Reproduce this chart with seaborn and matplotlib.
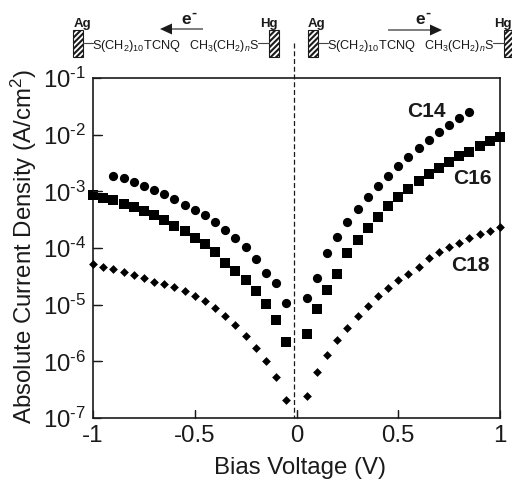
import numpy as np
import pandas as pd
import matplotlib
matplotlib.use("Agg")
import matplotlib.pyplot as plt
from matplotlib.patches import Rectangle, FancyArrow
import seaborn as sns

# Bias voltages of the sampled points (V)
v_c14_neg = [-0.90,-0.85,-0.80,-0.75,-0.70,-0.65,-0.60,-0.55,-0.50,-0.45,-0.40,-0.35,-0.30,-0.25,-0.20,-0.15,-0.10,-0.05]
v_c14_pos = [0.05,0.10,0.15,0.20,0.25,0.30,0.35,0.40,0.45,0.50,0.55,0.60,0.65,0.70,0.75,0.80,0.85]
v_all_neg = [-1.00,-0.95,-0.90,-0.85,-0.80,-0.75,-0.70,-0.65,-0.60,-0.55,-0.50,-0.45,-0.40,-0.35,-0.30,-0.25,-0.20,-0.15,-0.10,-0.05]
v_all_pos = [0.05,0.10,0.15,0.20,0.25,0.30,0.35,0.40,0.45,0.50,0.55,0.60,0.65,0.70,0.75,0.80,0.85,0.90,0.95,1.00]

# log10 of the current density (A/cm2)
c14_neg = [-2.724,-2.765,-2.835,-2.906,-2.982,-3.047,-3.141,-3.235,-3.329,-3.424,-3.541,-3.682,-3.824,-3.988,-4.200,-4.435,-4.624,-4.976]
c14_pos = [-4.888,-4.535,-4.088,-3.806,-3.547,-3.312,-3.100,-2.912,-2.724,-2.559,-2.394,-2.229,-2.088,-1.947,-1.829,-1.712,-1.594]
c16_neg = [-3.065,-3.112,-3.159,-3.229,-3.276,-3.347,-3.418,-3.512,-3.606,-3.700,-3.818,-3.935,-4.076,-4.265,-4.406,-4.571,-4.759,-4.994,-5.276,-5.653]
c16_pos = [-5.524,-5.076,-4.747,-4.465,-4.088,-3.853,-3.641,-3.453,-3.265,-3.100,-2.959,-2.818,-2.700,-2.582,-2.488,-2.371,-2.300,-2.206,-2.112,-2.041]
c18_neg = [-4.282,-4.329,-4.376,-4.424,-4.471,-4.524,-4.594,-4.641,-4.682,-4.753,-4.847,-4.941,-5.059,-5.200,-5.365,-5.553,-5.765,-6.000,-6.282,-6.682]
c18_pos = [-6.618,-6.194,-5.888,-5.629,-5.418,-5.206,-5.018,-4.853,-4.712,-4.571,-4.453,-4.335,-4.171,-4.076,-3.982,-3.912,-3.818,-3.747,-3.700,-3.629]

x_ticks = [-1, -0.5, 0, 0.5, 1]
x_tick_labels = ["-1", "-0.5", "0", "0.5", "1"]
y_ticks = [1e-7, 1e-6, 1e-5, 1e-4, 1e-3, 1e-2, 1e-1]
y_tick_labels = [f"10$^{{\\text{{-}}{n}}}$" for n in (7, 6, 5, 4, 3, 2, 1)]

sns.set_theme(style="ticks")
plt.rcParams.update({
    "font.family": ["Liberation Sans", "DejaVu Sans"],
    "mathtext.fontset": "custom",
    "mathtext.rm": "Liberation Sans",
    "mathtext.it": "Liberation Sans:italic",
    "mathtext.bf": "Liberation Sans:bold",
    "mathtext.default": "regular",
    "hatch.linewidth": 1.5,
})
INK = "#1a1a1a"
W, H = 512, 479
fig = plt.figure(figsize=(W / 100, H / 100), dpi=100, facecolor="white")
L, R, T, B = 93, 500, 78, 418
ax = fig.add_axes([L / W, 1 - B / H, (R - L) / W, (B - T) / H])

def frame(v, log_j):
    return pd.DataFrame({"v": v, "j": 10.0 ** np.array(log_j)})

c14 = frame(v_c14_neg + v_c14_pos, c14_neg + c14_pos)
c16 = frame(v_all_neg + v_all_pos, c16_neg + c16_pos)
c18 = frame(v_all_neg + v_all_pos, c18_neg + c18_pos)
kw = dict(x="v", y="j", color="black", linewidth=0, ax=ax, clip_on=False, zorder=3)
sns.scatterplot(data=c14, marker="o", s=44, **kw)
sns.scatterplot(data=c16, marker="s", s=52, **kw)
sns.scatterplot(data=c18, marker="D", s=20, **kw)

ax.set_yscale("log")
ax.set_xlim(-1, 1)
ax.set_ylim(1e-7, 1e-1)
ax.set_xticks(x_ticks, x_tick_labels)
ax.set_yticks(y_ticks, y_tick_labels)
ax.minorticks_off()
ax.tick_params(axis="both", which="major", direction="in", length=6, width=0.9,
               color=INK, labelcolor=INK, labelsize=17.3, pad=5)
# Inward tick strokes placed through the axis transforms, above everything else
tick_px = 8.5
for xt in x_ticks[1:-1]:
    ax.plot([xt, xt], [0, tick_px / (B - T)], transform=ax.get_xaxis_transform(),
            color=INK, lw=0.9, clip_on=False, zorder=10)
for yt in y_ticks[1:-1]:
    ax.plot([0, tick_px / (R - L)], [yt, yt], transform=ax.get_yaxis_transform(),
            color=INK, lw=0.9, clip_on=False, zorder=10)
for s in ax.spines.values():
    s.set_linewidth(1.2)
    s.set_color(INK)
ax.set_xlabel("Bias Voltage (V)", fontsize=17.3, color=INK)
ax.set_ylabel("Absolute Current Density (A/cm$^2$)", fontsize=17.3, color=INK)
ax.xaxis.set_label_coords((300 - L) / (R - L), -(468 - B) / (B - T), transform=ax.transAxes)
ax.xaxis.label.set_va("center")
ax.yaxis.set_label_coords(-(93 - 24) / (R - L), (B - 246.5) / (B - T), transform=ax.transAxes)
ax.yaxis.label.set_va("center")
ax.set_zorder(5)
ax.patch.set_visible(False)

# Overlay in pixel coordinates for the scheme above the plot
ov = fig.add_axes([0, 0, 1, 1], facecolor="none")
ov.set_zorder(1)
ov.set_xlim(0, W)
ov.set_ylim(H, 0)
ov.axis("off")
ov.plot([294, 294], [43, 418], color=INK, lw=0.9, ls=(0, (4, 2.2)), zorder=1)

for txt, px, py in [("C14", 426, 117), ("C16", 472, 184), ("C18", 470, 271)]:
    ov.text(px, py, txt, fontsize=15, fontweight="bold", color=INK, ha="center", va="baseline", zorder=5)

def scheme(dx, arrow_from, arrow_to, arrow_y, e_x):
    for x0 in (73, 269):
        ov.add_patch(Rectangle((x0 + dx, 30), 10, 27, facecolor="white", edgecolor=INK, hatch="//////", lw=0.8))
    ov.plot([83 + dx, 93 + dx], [43, 43], color="#444444", lw=0.8)
    ov.plot([258 + dx, 269 + dx], [43, 43], color="#444444", lw=0.8)
    ov.text(82 + dx, 27, "Ag", fontsize=9.5, fontweight="bold", ha="center", va="baseline", color=INK)
    ov.text(268.5 + dx, 27, "Hg", fontsize=9.5, fontweight="bold", ha="center", va="baseline", color=INK)
    ov.text(92.5 + dx, 49, "S(CH$_2$)$_{10}$TCNQ", fontsize=9.2, ha="left", va="baseline", color=INK)
    ov.text(189 + dx, 49, "CH$_3$(CH$_2$)$_{\\mathit{n}}$S", fontsize=9, ha="left", va="baseline", color=INK)
    ov.text(e_x, 24, "e", fontsize=12.5, fontweight="bold", ha="center", va="baseline", color=INK)
    ov.text(e_x + 7.5, 17, "-", fontsize=11, fontweight="bold", ha="center", va="baseline", color=INK)
    delta = arrow_to - arrow_from
    ov.add_patch(FancyArrow(arrow_from, arrow_y, delta, 0, width=1.1, head_width=11, head_length=12,
                            length_includes_head=True, color=INK, lw=0))

scheme(0, 203, 160, 29, 186)
scheme(234.5, 388, 442, 30, 420)

fig.savefig("out.png", dpi=100)
